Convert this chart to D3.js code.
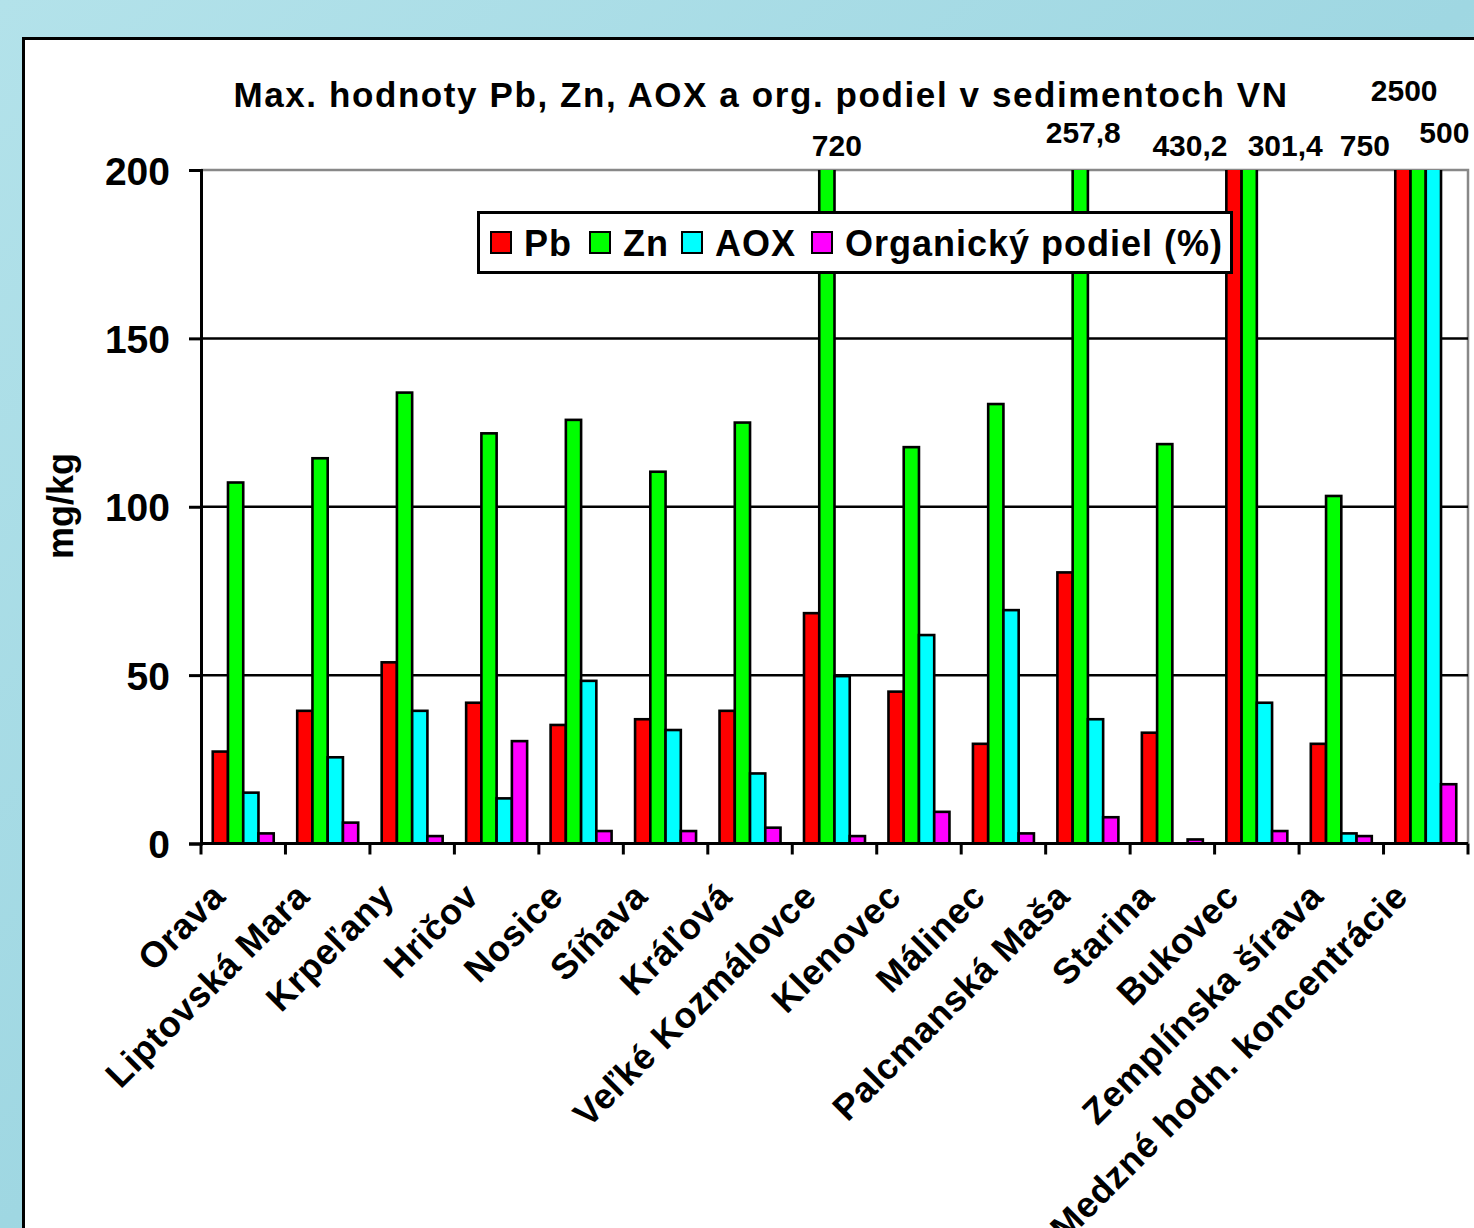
<!DOCTYPE html>
<meta charset="utf-8">
<script src="https://d3js.org/d3.v7.min.js"></script>
<style>
  body { margin: 0; }
  text { font-family: "Liberation Sans", Arial, sans-serif; font-weight: bold; }
</style>
<div id="my_dataviz"></div>
<script>
    // categories and series values (mg/kg, organic share in %)
    var categories = ["Orava", "Liptovská Mara", "Krpeľany", "Hričov", "Nosice", "Síňava", "Kráľová",
        "Veľké Kozmálovce", "Klenovec", "Málinec", "Palcmanská Maša", "Starina", "Bukovec",
        "Zemplínska šírava", "Medzné hodn. koncentrácie"];
    var seriesNames = ["Pb", "Zn", "AOX", "Organický podiel (%)"];
    var pb  = [27.3, 39.4, 53.8, 41.8, 35.2, 36.9, 39.4, 68.4, 45.1, 29.6, 80.5, 32.9, 430.2, 29.6, 750];
    var zn  = [107.2, 114.4, 133.9, 121.8, 125.8, 110.4, 125.0, 720, 117.7, 130.5, 257.8, 118.6, 301.4, 103.2, 2500];
    var aox = [15.1, 25.6, 39.4, 13.4, 48.3, 33.7, 20.8, 49.7, 61.9, 69.3, 36.9, null, 41.8, 3.0, 500];
    var org = [3.0, 6.2, 2.2, 30.4, 3.7, 3.7, 4.7, 2.2, 9.4, 3.0, 7.8, 1.2, 3.7, 2.2, 17.6];
    var yTicks = [0, 50, 100, 150, 200];

    var colors = ["#ff0000", "#00ff00", "#00ffff", "#ff00ff"];

    // where the off-scale value labels sit relative to their bar (dx from bar centre, text baseline)
    var overflowPlacement = {
        "7-1": [10, 156], "10-1": [3, 143], "12-0": [-44, 156], "12-1": [36, 156],
        "14-0": [-38, 156], "14-1": [-14, 101], "14-2": [11, 143]
    };

    var W = 1474, H = 1228;
    var plot = {left: 201, right: 1468, top: 170, bottom: 843.5};

    var svg = d3.select("#my_dataviz")
      .append("svg")
        .attr("width", W)
        .attr("height", H);

    // water-like background
    var defs = svg.append("defs");
    var grad = defs.append("linearGradient").attr("id", "bg")
        .attr("x1", 0).attr("y1", 0).attr("x2", 1).attr("y2", 1);
    grad.append("stop").attr("offset", "0%").attr("stop-color", "#b3e2ea");
    grad.append("stop").attr("offset", "50%").attr("stop-color", "#9fd7e2");
    grad.append("stop").attr("offset", "100%").attr("stop-color", "#b6e4ec");
    svg.append("rect").attr("width", W).attr("height", H).attr("fill", "url(#bg)");

    svg.append("rect")
        .attr("x", 23.5).attr("y", 38.5)
        .attr("width", W).attr("height", H)
        .attr("fill", "white").attr("stroke", "black").attr("stroke-width", 3);

    defs.append("clipPath").attr("id", "plotclip")
      .append("rect")
        .attr("x", plot.left).attr("y", plot.top)
        .attr("width", plot.right - plot.left).attr("height", plot.bottom - plot.top + 2);

    var x = d3.scaleBand()
        .domain(categories)
        .range([plot.left, plot.right])
        .padding(0);

    var xs = d3.scaleBand()
        .domain(d3.range(seriesNames.length))
        .range([0, x.bandwidth()])
        .paddingInner(0)
        .paddingOuter(0.77);

    var y = d3.scaleLinear()
        .domain([0, 200])
        .range([plot.bottom, plot.top]);

    // plot area border (top / right grey)
    svg.append("path")
        .attr("d", "M" + plot.left + "," + plot.top + "H" + plot.right + "V" + plot.bottom)
        .attr("fill", "none").attr("stroke", "#888").attr("stroke-width", 2.5);

    // gridlines
    svg.append("g")
      .selectAll("line")
      .data(yTicks.filter(function(d) { return d > 0 && d < 200; }))
      .join("line")
        .attr("x1", plot.left).attr("x2", plot.right)
        .attr("y1", function(d) { return y(d); })
        .attr("y2", function(d) { return y(d); })
        .attr("stroke", "black").attr("stroke-width", 2.5);

    // bars
    var table = categories.map(function(c, i) { return [pb[i], zn[i], aox[i], org[i]]; });

    var bars = svg.append("g").attr("clip-path", "url(#plotclip)");
    table.forEach(function(vals, i) {
      bars.selectAll(null)
        .data(vals.map(function(v, s) { return {v: v, s: s}; }).filter(function(d) { return d.v != null; }))
        .join("rect")
          .attr("x", function(d) { return x(categories[i]) + xs(d.s); })
          .attr("width", xs.bandwidth())
          .attr("y", function(d) { return y(d.v); })
          .attr("height", function(d) { return plot.bottom - y(d.v); })
          .attr("fill", function(d) { return colors[d.s]; })
          .attr("stroke", "black")
          .attr("stroke-width", 2.6);
    });

    // y axis
    var yAxis = svg.append("g")
        .attr("transform", "translate(" + plot.left + ",0)")
        .call(d3.axisLeft(y).tickValues(yTicks).tickSize(12).tickPadding(19));
    yAxis.select(".domain").attr("stroke-width", 3);
    yAxis.selectAll(".tick line").attr("stroke-width", 3);
    yAxis.selectAll(".tick text")
        .style("font-size", "39px")
        .attr("fill", "black")
        .attr("dy", "0.36em");

    // x axis
    var xAxis = svg.append("g")
        .attr("transform", "translate(0," + plot.bottom + ")");
    xAxis.append("line")
        .attr("x1", plot.left).attr("x2", plot.right)
        .attr("stroke", "black").attr("stroke-width", 3);
    xAxis.selectAll("line.tk")
      .data(categories.map(function(c) { return x(c); }).concat([plot.right]))
      .join("line")
        .attr("class", "tk")
        .attr("x1", function(d) { return d; }).attr("x2", function(d) { return d; })
        .attr("y1", 0).attr("y2", 11)
        .attr("stroke", "black").attr("stroke-width", 3);

    svg.append("g").selectAll("text")
      .data(categories)
      .join("text")
        .attr("text-anchor", "end")
        .attr("transform", function(d) {
          return "translate(" + (x(d) + x.bandwidth() / 2 - 16) + "," + (plot.bottom + 55) + ") rotate(-45)";
        })
        .style("font-size", "36px")
        .style("letter-spacing", "0.6px")
        .text(function(d) { return d; });

    // y axis title
    svg.append("text")
        .attr("transform", "translate(73,506) rotate(-90)")
        .attr("text-anchor", "middle")
        .style("font-size", "36px")
        .text("mg/kg");

    // title
    svg.append("text")
        .attr("x", 761).attr("y", 107)
        .attr("text-anchor", "middle")
        .style("font-size", "35px")
        .style("letter-spacing", "1.6px")
        .text("Max. hodnoty Pb, Zn, AOX a org. podiel v sedimentoch VN");

    // labels for bars running off the scale
    var fmt = function(v) { return String(v).replace(".", ","); };
    var overflow = [];
    table.forEach(function(vals, i) {
      vals.forEach(function(v, s) {
        if (v != null && v > 200) overflow.push({i: i, s: s, v: v});
      });
    });
    svg.append("g").selectAll("text")
      .data(overflow)
      .join("text")
        .attr("text-anchor", "middle")
        .attr("x", function(d) {
          var p = overflowPlacement[d.i + "-" + d.s] || [0, 156];
          return x(categories[d.i]) + xs(d.s) + xs.bandwidth() / 2 + p[0];
        })
        .attr("y", function(d) { return (overflowPlacement[d.i + "-" + d.s] || [0, 156])[1]; })
        .style("font-size", "30px")
        .text(function(d) { return fmt(d.v); });

    // legend
    var legend = svg.append("g");
    legend.append("rect")
        .attr("x", 478.5).attr("y", 212.5)
        .attr("width", 753).attr("height", 60)
        .attr("fill", "white").attr("stroke", "black").attr("stroke-width", 3);
    var legendX = [491, 590, 682, 812];
    seriesNames.forEach(function(name, s) {
      legend.append("rect")
          .attr("x", legendX[s]).attr("y", 232)
          .attr("width", 20).attr("height", 21)
          .attr("fill", colors[s]).attr("stroke", "black").attr("stroke-width", 2);
      legend.append("text")
          .attr("x", legendX[s] + 33).attr("y", 256)
          .style("font-size", "36px")
          .style("letter-spacing", "1px")
          .text(name);
    });
</script>
